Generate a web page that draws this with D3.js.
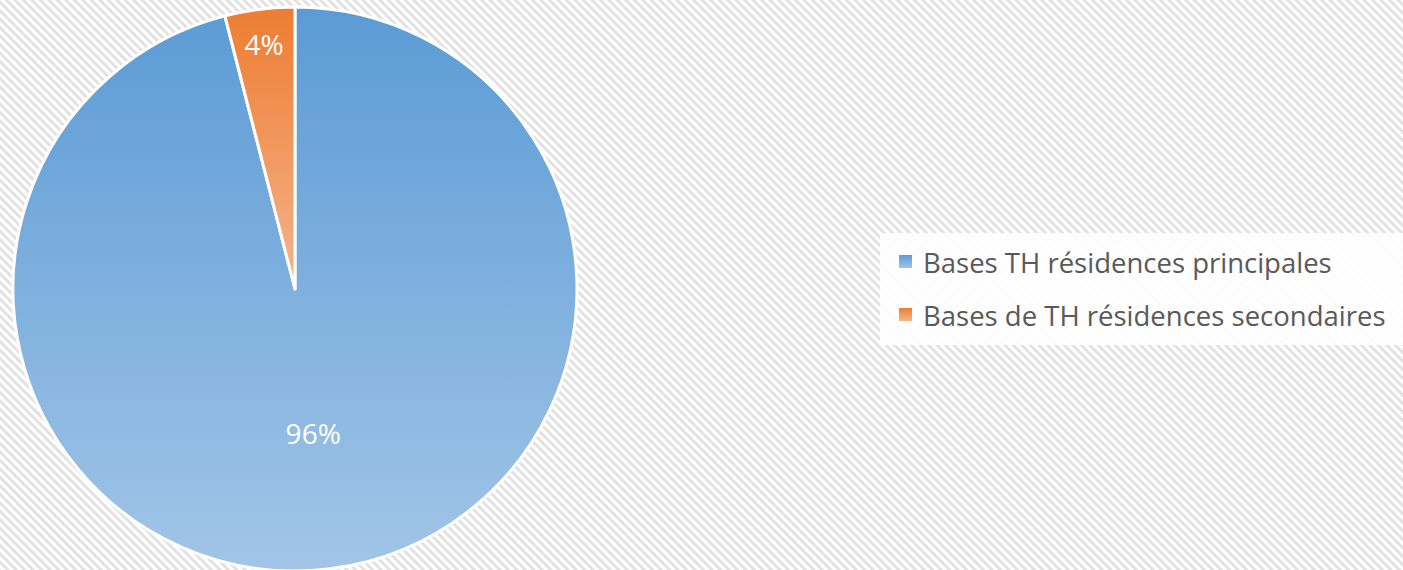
<!DOCTYPE html>
<html>
<head>
<meta charset="utf-8">
<script src="https://cdn.jsdelivr.net/npm/d3@7"></script>
<style>
  html, body { margin: 0; padding: 0; background: #fff; }
  svg { display: block; }
</style>
</head>
<body>
<svg id="chart" width="1403" height="570"></svg>
<script>
// Répartition des bases de taxe d'habitation
const categories = ["Bases TH résidences principales", "Bases de TH résidences secondaires"];
const values = [96, 4];
const topColors = ["#5B9BD5", "#ED7D31"];
const bottomColors = ["#A2C5E7", "#F5B48E"];

const W = 1403, H = 570;
const svg = d3.select("#chart");
const defs = svg.append("defs");

// diagonal hatched background
const pat = defs.append("pattern")
  .attr("id", "bgHatch")
  .attr("patternUnits", "userSpaceOnUse")
  .attr("width", 6).attr("height", 6)
  .attr("patternTransform", "rotate(45)");
pat.append("rect").attr("width", 6).attr("height", 6).attr("fill", "#ffffff");
pat.append("rect").attr("width", 6).attr("height", 3).attr("fill", "#e2e2e2");

svg.append("rect").attr("width", W).attr("height", H).attr("fill", "url(#bgHatch)");

// vertical gradients per slice
categories.forEach((c, i) => {
  const g = defs.append("linearGradient")
    .attr("id", "grad" + i)
    .attr("x1", 0).attr("y1", 0).attr("x2", 0).attr("y2", 1);
  g.append("stop").attr("offset", "0%").attr("stop-color", topColors[i]);
  g.append("stop").attr("offset", "100%").attr("stop-color", bottomColors[i]);
});

const cx = 295, cy = 289, r = 282;
const total = d3.sum(values);
const pieData = d3.pie().sort(null).startAngle(0).endAngle(2 * Math.PI)(values);

const arc = d3.arc().innerRadius(0).outerRadius(r);
const g = svg.append("g").attr("transform", `translate(${cx},${cy})`);

g.selectAll("path.slice")
  .data(pieData)
  .join("path")
  .attr("class", "slice")
  .attr("d", arc)
  .attr("fill", (d, i) => `url(#grad${i})`)
  .attr("stroke", "#ffffff")
  .attr("stroke-width", 3)
  .attr("stroke-linejoin", "round");

// value labels
const labelRadius = [r * 0.515, r * 0.875];
g.selectAll("text.val")
  .data(pieData)
  .join("text")
  .attr("class", "val")
  .attr("transform", (d, i) => {
    const la = d3.arc().innerRadius(labelRadius[i]).outerRadius(labelRadius[i]);
    return `translate(${la.centroid(d)})`;
  })
  .attr("text-anchor", "middle")
  .attr("dominant-baseline", "central")
  .attr("font-family", "'Open Sans', sans-serif")
  .attr("font-size", 28)
  .attr("fill", "#ffffff")
  .text(d => Math.round(d.data / total * 100) + "%");

// legend
const legend = svg.append("g");
legend.append("rect")
  .attr("x", 880).attr("y", 233).attr("width", W - 880).attr("height", 112)
  .attr("fill", "#ffffff").attr("fill-opacity", 0.9);

const items = legend.selectAll("g.item")
  .data(categories)
  .join("g")
  .attr("class", "item")
  .attr("transform", (d, i) => `translate(899,${255 + i * 53})`);
items.append("rect")
  .attr("width", 13).attr("height", 13)
  .attr("fill", (d, i) => `url(#grad${i})`);
items.append("text")
  .attr("x", 24).attr("y", 7)
  .attr("dominant-baseline", "central")
  .attr("font-family", "'Open Sans', sans-serif")
  .attr("font-size", 27.5)
  .attr("fill", "#595959")
  .text(d => d);
</script>
</body>
</html>
